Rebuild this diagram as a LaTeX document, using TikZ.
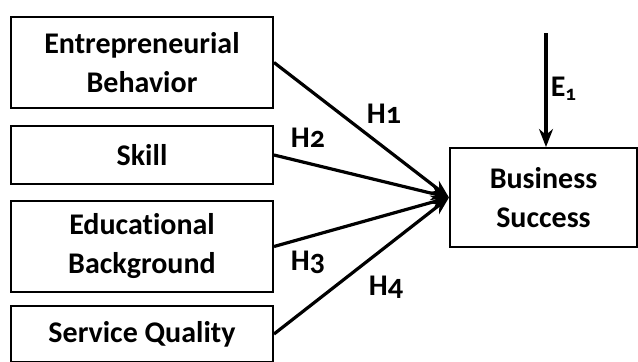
\documentclass[tikz,border=0pt]{standalone}
\usepackage{fontspec}
\setmainfont{Carlito}[Numbers=OldStyle,Ligatures=NoCommon]
\usetikzlibrary{arrows.meta,positioning}

\begin{document}
\begin{tikzpicture}[x=0.5pt,y=-0.5pt,
  factor/.style={draw,line width=1pt,inner sep=0pt,align=center,
    minimum width=131pt,font=\bfseries\fontsize{15}{19.5}\selectfont},
  effect/.style={line width=1.6pt,-{Stealth[length=9pt,width=7pt]}},
  hyp/.style={font=\bfseries\fontsize{15}{17}\selectfont,inner sep=0pt}]
\useasboundingbox (0,0) rectangle (638,361);
%% Factors on the left
\node[factor,minimum height=45.5pt] (EB) at (142,62.5) {Entrepreneurial\\Behavior}; % EB
\node[factor,minimum height=29pt] (SK) at (142,155) {Skill}; % SK
\node[factor,minimum height=45.5pt] (EBg) at (142,246.5) {Educational\\Background}; % EBg
\node[factor,minimum height=28pt] (SQ) at (142,334) {Service Quality}; % SQ
%% Outcome
\node[factor,minimum width=93.5pt,minimum height=49.5pt] (BS) at (543.5,197.5) {Business\\Success}; % BS
\coordinate (E) at (546,33); % error term
\draw[effect] (EB.east) -- (BS.west); % H1
\draw[effect] (SK.east) -- (BS.west); % H2
\draw[effect] (EBg.east) -- (BS.west); % H3
\draw[effect] (SQ.east) -- (BS.west); % H4
\draw[effect] (E) -- (BS.north -| E); % E1
%% Labels for the paths are typeset.
\node[hyp] (h1) at (384,114) {H1};
\node[hyp] (h2) at (308,138) {H2};
\node[hyp] (h3) at (308,262) {H3};
\node[hyp] (h4) at (386,287) {H4};
\node[hyp] (e1) at (564,89) {E\textsubscript{1}};
\end{tikzpicture}
\end{document}
